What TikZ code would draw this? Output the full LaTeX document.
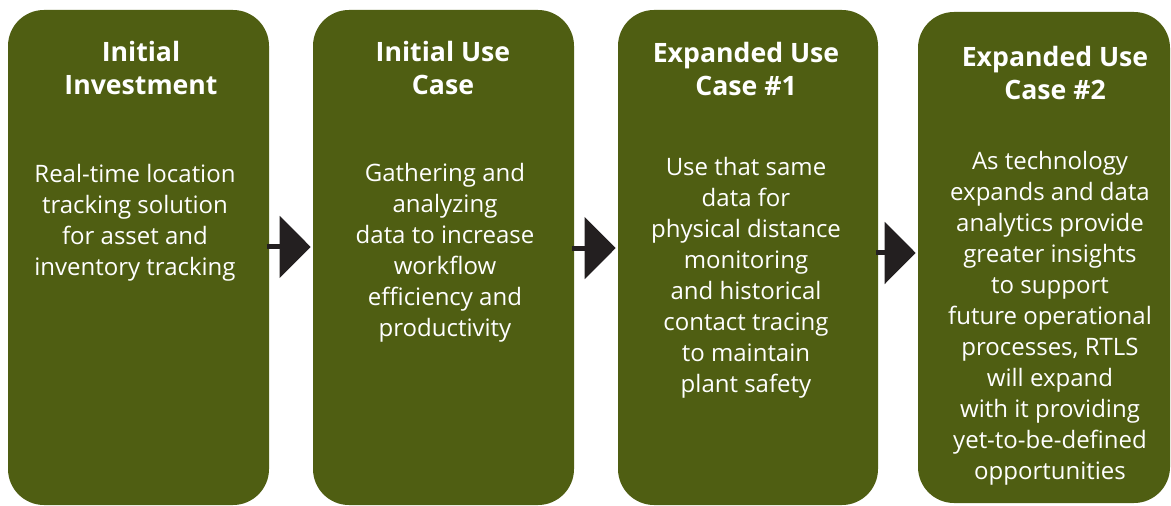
\documentclass[tikz,border=0pt]{standalone}
\usepackage{fontspec}
\setmainfont{Open Sans}
\usetikzlibrary{arrows.meta,fit}
\definecolor{boxgreen}{HTML}{4F5E12}
\definecolor{arrowdark}{HTML}{231F20}
\begin{document}
\begin{tikzpicture}[x=0.75pt,y=-0.75pt,
  stage/.style={fill=boxgreen, rounded corners=27pt, inner sep=0pt},
  stagetitle/.style={text=white, font=\bfseries\fontsize{20}{24.75}\selectfont, align=center, inner sep=0pt},
  stagebody/.style={text=white, font=\fontsize{18}{23.25}\selectfont, align=center, inner sep=0pt},
  flowarrow/.style={draw=arrowdark, line width=3.75pt, -{Triangle[length=23.25pt,width=45.75pt]}, shorten <=-1.5pt, shorten >=1.5pt}]
\useasboundingbox (0,0) rectangle (1171,506);
\node[stage, fit={(8,10) (269,505)}] (b1) {};
\node[stage, fit={(313,10) (574,505)}] (b2) {};
\node[stage, fit={(618,10) (878,505)}] (b3) {};
\node[stage, fit={(918,12) (1170,503)}] (b4) {};
\node[stagetitle] (t1) at (141,68.5) {Initial\\Investment};
\node[stagetitle] (t2) at (443,68.5) {Initial Use\\Case};
\node[stagetitle] (t3) at (746,69) {Expanded Use\\Case \#1};
\node[stagetitle] (t4) at (1055,73.5) {Expanded Use\\Case \#2};
\node[stagebody] (d1) at (135,222.5) {Real-time location\\tracking solution\\for asset and\\inventory tracking};
\node[stagebody] (d2) at (445,252.5) {Gathering and\\analyzing\\data to increase\\workflow\\efficiency and\\productivity};
\node[stagebody] (d3) at (746,278) {Use that same\\data for\\physical distance\\monitoring\\and historical\\contact tracing\\to maintain\\plant safety};
\node[stagebody] (d4) at (1050,318.5) {As technology\\expands and data\\analytics provide\\greater insights\\to support\\future operational\\processes, RTLS\\will expand\\with it providing\\yet-to-be-defined\\opportunities};
\draw[flowarrow] ([yshift=7.9pt]b1.east) -- ([yshift=7.9pt]b2.west);
\draw[flowarrow] ([yshift=7.1pt]b2.east) -- ([yshift=7.1pt]b3.west);
\draw[flowarrow] ([yshift=3.4pt]b3.east) -- ([yshift=3.4pt]b4.west);
\end{tikzpicture}
\end{document}
